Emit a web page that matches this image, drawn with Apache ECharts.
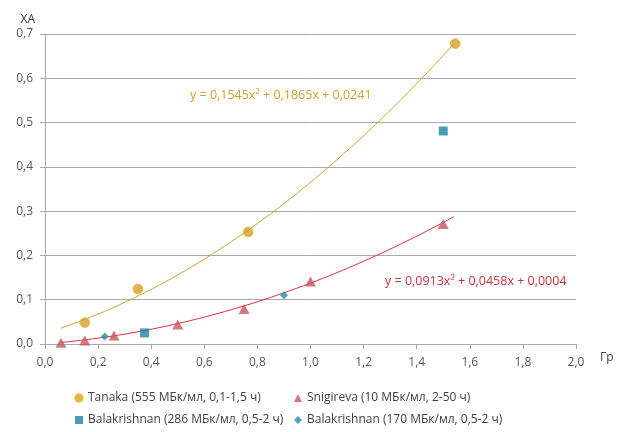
<!DOCTYPE html>
<html><head><meta charset="utf-8">
<script src="https://cdn.jsdelivr.net/npm/echarts@6/dist/echarts.min.js"></script>
<style>html,body{margin:0;padding:0;background:#fff}#c{width:621px;height:432px}</style>
</head><body><div id="c"></div>
<script>
var tanaka = [[0.15,0.048],[0.35,0.124],[0.765,0.253],[1.545,0.678]];
var snigireva = [[0.06,0.003],[0.15,0.008],[0.26,0.019],[0.5,0.044],[0.75,0.079],[1.0,0.141],[1.5,0.271]];
var bal286 = [[0.375,0.025],[1.5,0.481]];
var bal170 = [[0.225,0.017],[0.9,0.11]];
var tanakaFit = [0.1545,0.1865,0.0241]; // a,b,c
var snigFit = [0.0913,0.0458,0.0004];
var tanakaRange = [0.06,1.54];
var snigRange = [0.06,1.54];
var names = ['Tanaka (555 МБк/мл, 0,1-1,5 ч)','Snigireva (10 МБк/мл, 2-50 ч)','Balakrishnan (286 МБк/мл, 0,5-2 ч)','Balakrishnan (170 МБк/мл, 0,5-2 ч)'];

function curve(f, r){
  var pts=[]; var n=60;
  for(var i=0;i<=n;i++){var x=r[0]+(r[1]-r[0])*i/n; pts.push([x,f[0]*x*x+f[1]*x+f[2]]);}
  return pts;
}
var font = '"Open Sans", sans-serif';
var fmt = function(v){return v.toFixed(1).replace('.',',');};
var chart = echarts.init(document.getElementById('c'));
chart.setOption({
  animation:false,
  textStyle:{fontFamily:font},
  grid:{left:45,right:45,top:34,bottom:88},
  xAxis:{type:'value',min:0,max:2,interval:0.2,
    name:'Гр',nameLocation:'end',nameGap:24,
    nameTextStyle:{color:'#404040',fontSize:12,verticalAlign:'top',padding:[8,0,0,0]},
    axisLine:{show:true,lineStyle:{color:'#A8A8B0'}},
    axisTick:{show:true,length:5,lineStyle:{color:'#A8A8B0'}},
    axisLabel:{formatter:fmt,color:'#595959',fontSize:12,margin:13},
    splitLine:{show:false}},
  yAxis:{type:'value',min:0,max:0.7,interval:0.1,
    name:'ХА',nameLocation:'end',nameGap:8,
    nameTextStyle:{color:'#404040',fontSize:12,align:'right',padding:[0,10,0,0]},
    axisLine:{show:true,lineStyle:{color:'#A8A8B0'}},
    axisTick:{show:true,length:5,lineStyle:{color:'#A8A8B0'}},
    axisLabel:{formatter:fmt,color:'#595959',fontSize:12,margin:12},
    splitLine:{show:true,lineStyle:{color:'#A8A8B0'}}},
  legend:[
    {data:[names[0],names[2]],orient:'vertical',left:69,top:387,itemGap:10,itemWidth:8,itemHeight:8,
     textStyle:{color:'#404040',fontSize:12,fontFamily:font}},
    {data:[names[1],names[3]],orient:'vertical',left:289,top:387,itemGap:10,itemWidth:8,itemHeight:8,
     textStyle:{color:'#404040',fontSize:12,fontFamily:font}}
  ],
  series:[
    {name:'fitT',type:'line',data:curve(tanakaFit,tanakaRange),showSymbol:false,silent:true,
     lineStyle:{color:'#C9A43A',width:1},z:1},
    {name:'fitS',type:'line',data:curve(snigFit,snigRange),showSymbol:false,silent:true,
     lineStyle:{color:'#E0303E',width:1},z:1},
    {name:names[0],type:'scatter',data:tanaka,symbol:'circle',symbolSize:10,
     itemStyle:{color:'#CFA02A',borderColor:'#F2C440',borderWidth:1},z:3},
    {name:names[1],type:'scatter',data:snigireva,symbol:'triangle',symbolSize:[11,10],
     itemStyle:{color:'#C8555B'},z:3},
    {name:names[2],type:'scatter',data:bal286,symbol:'rect',symbolSize:9,
     itemStyle:{color:'#1A85A0'},z:3},
    {name:names[3],type:'scatter',data:bal170,symbol:'diamond',symbolSize:8,
     itemStyle:{color:'#1E8FA8'},z:3}
  ],
  graphic:[
    {type:'text',left:190,top:89,style:{text:'y = 0,1545x² + 0,1865x + 0,0241',fill:'#CFA02A',fontSize:12.5,fontFamily:font}},
    {type:'text',left:385,top:275,style:{text:'y = 0,0913x² + 0,0458x + 0,0004',fill:'#D0303C',fontSize:12.5,fontFamily:font}}
  ]
});
</script></body></html>
